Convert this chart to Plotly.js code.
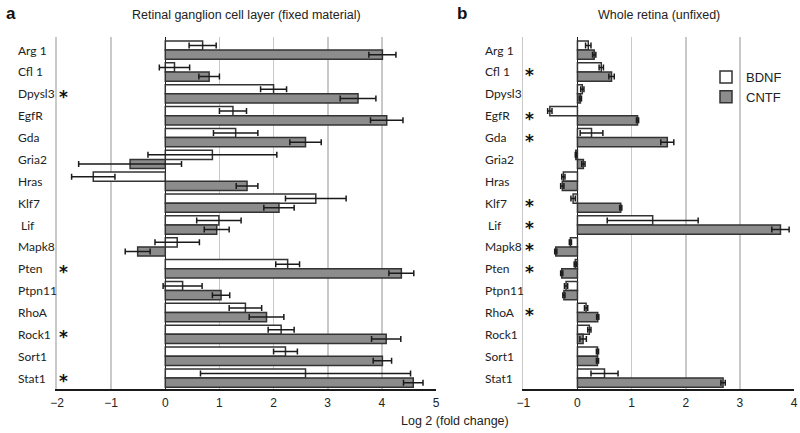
<!DOCTYPE html>
<html>
<head>
<meta charset="utf-8">
<script src="https://cdn.plot.ly/plotly-3.0.1.min.js"></script>
<style>html,body{margin:0;padding:0;background:#fff;}#chart{width:800px;height:433px;}</style>
</head>
<body>
<div id="chart"></div>
<script>
// ---- data ----
const categories = ['Arg 1','Cfl 1','Dpysl3','EgfR','Gda','Gria2','Hras','Klf7','Lif','Mapk8','Pten','Ptpn11','RhoA','Rock1','Sort1','Stat1'];
const categoryLabels = ['Arg 1','Cfl 1','Dpysl3','EgfR','Gda','Gria2','Hras','Klf7','\u00a0Lif','Mapk8','Pten','Ptpn11','RhoA','Rock1','Sort1','Stat1'];
const seriesNames = ['BDNF','CNTF'];

// Panel a: Retinal ganglion cell layer (fixed material)
const bdnfFixed    = [0.69, 0.17, 2.00, 1.25, 1.30, 0.87, -1.33, 2.78, 0.99, 0.22, 2.26, 0.32, 1.48, 2.14, 2.22, 2.59];
const bdnfFixedErr = [0.25, 0.28, 0.24, 0.25, 0.41, 1.19, 0.40, 0.56, 0.41, 0.41, 0.22, 0.36, 0.30, 0.24, 0.22, 1.94];
const cntfFixed    = [4.01, 0.81, 3.56, 4.09, 2.59, -0.65, 1.51, 2.10, 0.95, -0.51, 4.36, 1.03, 1.87, 4.08, 4.01, 4.58];
const cntfFixedErr = [0.25, 0.19, 0.33, 0.30, 0.29, 0.95, 0.20, 0.28, 0.23, 0.23, 0.23, 0.16, 0.32, 0.27, 0.17, 0.18];

// Panel b: Whole retina (unfixed)
const bdnfWhole    = [0.20, 0.44, 0.09, -0.51, 0.26, -0.03, -0.26, -0.08, 1.39, -0.13, -0.04, -0.21, 0.16, 0.22, 0.37, 0.50];
const bdnfWholeErr = [0.05, 0.04, 0.03, 0.04, 0.21, 0.01, 0.03, 0.04, 0.84, 0.02, 0.02, 0.03, 0.03, 0.03, 0.02, 0.25];
const cntfWhole    = [0.31, 0.63, 0.055, 1.11, 1.66, 0.11, -0.28, 0.80, 3.75, -0.40, -0.29, -0.25, 0.375, 0.105, 0.37, 2.69];
const cntfWholeErr = [0.03, 0.05, 0.02, 0.02, 0.12, 0.03, 0.03, 0.02, 0.16, 0.02, 0.02, 0.02, 0.02, 0.06, 0.02, 0.04];

// significance markers
const sigFixed = ['Dpysl3','Pten','Rock1','Stat1'];
const sigWhole = ['Cfl 1','EgfR','Gda','Klf7','Lif','Mapk8','Pten','RhoA'];

const panelTitles = ['Retinal ganglion cell layer (fixed material)','Whole retina (unfixed)'];
const panelLetters = ['a','b'];
const xAxisTitle = 'Log 2 (fold change)';
const tickValsA = [-2,-1,0,1,2,3,4,5];
const tickValsB = [-1,0,1,2,3,4];

// ---- styles ----
const edge = '#333333';
const fills = ['#ffffff','#8c8c8c'];
const errStyle = (arr) => ({type:'data', array:arr, visible:true, color:'#1a1a1a', thickness:1.5, width:3});

function barTrace(name, vals, errs, fill, xa, ya, showLegend){
  return {
    type:'bar', orientation:'h', name:name, x:vals, y:categories,
    xaxis:xa, yaxis:ya, showlegend:showLegend, legendgroup:name,
    marker:{color:fill, line:{color:edge, width:1.5}},
    error_x:errStyle(errs), hoverinfo:'skip'
  };
}

const data = [
  barTrace(seriesNames[0], bdnfFixed, bdnfFixedErr, fills[0], 'x', 'y', false),
  barTrace(seriesNames[1], cntfFixed, cntfFixedErr, fills[1], 'x', 'y', false),
  barTrace(seriesNames[0], bdnfWhole, bdnfWholeErr, fills[0], 'x2', 'y2', true),
  barTrace(seriesNames[1], cntfWhole, cntfWholeErr, fills[1], 'x2', 'y2', true)
];

const W = 800, H = 433;
const yTop = 37, yBot = 389;
const ydom = [(H - yBot)/H, (H - yTop)/H];
const gridColor = '#c9c9c9';

function xAxis(range, ticks, domain, anchor){
  return {
    domain:domain, range:range, anchor:anchor, tickvals:ticks,
    showgrid:true, gridcolor:gridColor, gridwidth:1.6,
    zeroline:true, zerolinecolor:'#1a1a1a', zerolinewidth:1.5,
    showline:true, linecolor:'#1a1a1a', linewidth:1.5,
    ticks:'outside', ticklen:2, tickcolor:'rgba(0,0,0,0)',
    tickfont:{family:'Liberation Sans, Arial, sans-serif', size:12, color:'#222'},
    fixedrange:true
  };
}
function yAxis(anchor){
  return {
    domain:ydom, type:'category', categoryorder:'array', categoryarray:categories,
    range:[15.5,-0.6], anchor:anchor, showticklabels:false, ticks:'',
    showgrid:false, zeroline:false, showline:true, linecolor:gridColor, linewidth:1.6,
    fixedrange:true
  };
}

const annotations = [];
const labelFont = {family:'Lato, Noto Sans, sans-serif', size:12, color:'#222'};
categories.forEach((c,i)=>{
  annotations.push({xref:'paper', yref:'y', x:16/W, y:c, xanchor:'left', yanchor:'middle', text:categoryLabels[i], showarrow:false, font:labelFont});
  annotations.push({xref:'paper', yref:'y2', x:483/W, y:c, xanchor:'left', yanchor:'middle', text:categoryLabels[i], showarrow:false, font:labelFont});
});
const starFont = {family:'DejaVu Sans, sans-serif', size:17, color:'#111'};
sigFixed.forEach(c=>annotations.push({xref:'x', yref:'y', x:-1.88, y:c, xanchor:'center', yanchor:'middle', yshift:-3, text:'<b>*</b>', showarrow:false, font:starFont}));
sigWhole.forEach(c=>annotations.push({xref:'x2', yref:'y2', x:-0.89, y:c, xanchor:'center', yanchor:'middle', yshift:-3, text:'<b>*</b>', showarrow:false, font:starFont}));

const titleFont = {family:'Liberation Sans, Arial, sans-serif', size:12.5, color:'#222'};
annotations.push({xref:'paper', yref:'paper', x:246.5/W, y:1-15/H, xanchor:'center', yanchor:'middle', text:panelTitles[0], showarrow:false, font:titleFont});
annotations.push({xref:'paper', yref:'paper', x:658.5/W, y:1-15/H, xanchor:'center', yanchor:'middle', text:panelTitles[1], showarrow:false, font:titleFont});
annotations.push({xref:'paper', yref:'paper', x:4/W, y:1-14/H, xanchor:'left', yanchor:'middle', text:'<b>'+panelLetters[0]+'</b>', showarrow:false, font:{family:'Liberation Sans, Arial, sans-serif', size:17, color:'#111'}});
annotations.push({xref:'paper', yref:'paper', x:455/W, y:1-14/H, xanchor:'left', yanchor:'middle', text:'<b>'+panelLetters[1]+'</b>', showarrow:false, font:{family:'Liberation Sans, Arial, sans-serif', size:17, color:'#111'}});
annotations.push({xref:'paper', yref:'paper', x:455/W, y:1-421/H, xanchor:'center', yanchor:'middle', text:xAxisTitle, showarrow:false, font:titleFont});

const layout = {
  width:W, height:H, margin:{l:0,r:0,t:0,b:0},
  paper_bgcolor:'#fff', plot_bgcolor:'rgba(0,0,0,0)',
  barmode:'group', bargap:0.16, bargroupgap:0,
  xaxis:xAxis([-2,5], tickValsA, [57/W, 436/W], 'y'),
  yaxis:yAxis('x'),
  xaxis2:xAxis([-1,4], tickValsB, [523.3/W, 794/W], 'y2'),
  yaxis2:yAxis('x2'),
  showlegend:true,
  legend:{x:706/W, y:1-62/H, xanchor:'left', yanchor:'top', bgcolor:'rgba(0,0,0,0)',
          font:{family:'Liberation Sans, Arial, sans-serif', size:13, color:'#222'}, tracegroupgap:0, traceorder:'normal'},
  annotations:annotations
};

Plotly.newPlot('chart', data, layout, {displayModeBar:false, staticPlot:true});
</script>
</body>
</html>
